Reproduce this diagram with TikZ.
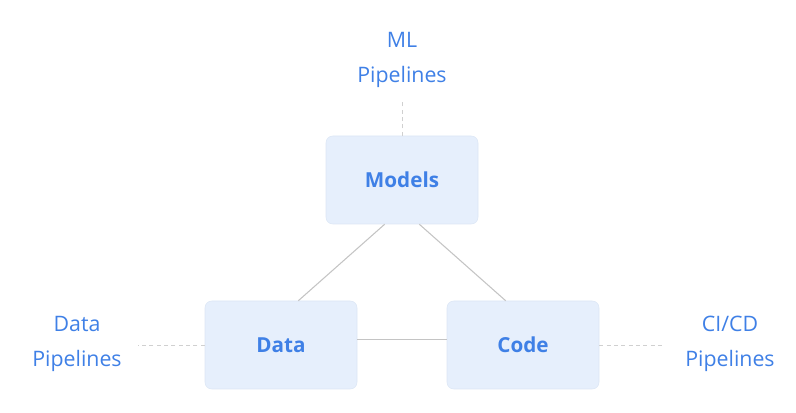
\documentclass[tikz,border=0pt]{standalone}
\usepackage{fontspec}
\setmainfont{Open Sans}
\usetikzlibrary{positioning}
\definecolor{gblue}{HTML}{3F80E6}
\definecolor{boxfill}{HTML}{E6EFFC}
\definecolor{boxedge}{HTML}{DCE6F5}
\definecolor{linkgray}{HTML}{C4C4C4}
\tikzset{
	asset/.style={draw=boxedge, fill=boxfill, rounded corners=5pt, minimum width=114pt, minimum height=66pt, text=gblue, font=\fontsize{15.5}{18}\selectfont\bfseries},
	pipe/.style={text=gblue, align=center, font=\fontsize{16}{26}\selectfont},
	link/.style={draw=linkgray, line width=0.8pt},
	dashlink/.style={draw=linkgray!80, line width=0.7pt, dash pattern=on 3pt off 2.5pt},
}

\begin{document}
\begin{tikzpicture}[x=0.75pt, y=0.75pt]
	\useasboundingbox (0,0) rectangle (796,413);
	
	\node (models) [asset] at (402,233) {Models};
	\node (data) [asset] at (281,68) {Data};
	\node (code) [asset] at (523,68) {Code};
	
	\node (ml) [pipe] at (402,353) {ML\\Pipelines};
	\node (datapipe) [pipe] at (77,69) {Data\\Pipelines};
	\node (cicd) [pipe] at (730,69) {CI/CD\\Pipelines};
	
	\coordinate (mltop) at (402,313);
	\coordinate (dataend) at (138,68);
	\coordinate (codeend) at (665,68);
	
	\draw[link] ([xshift=-13pt]models.south) -- ([xshift=13pt]data.north);
	\draw[link] ([xshift=13pt]models.south) -- ([xshift=-13pt]code.north);
	\draw[link] ([yshift=4pt]data.east) -- ([yshift=4pt]code.west);
	
	\draw[dashlink] (models.north) -- (mltop);
	\draw[dashlink] (data.west) -- (dataend);
	\draw[dashlink] (code.east) -- (codeend);
\end{tikzpicture}
\end{document}
